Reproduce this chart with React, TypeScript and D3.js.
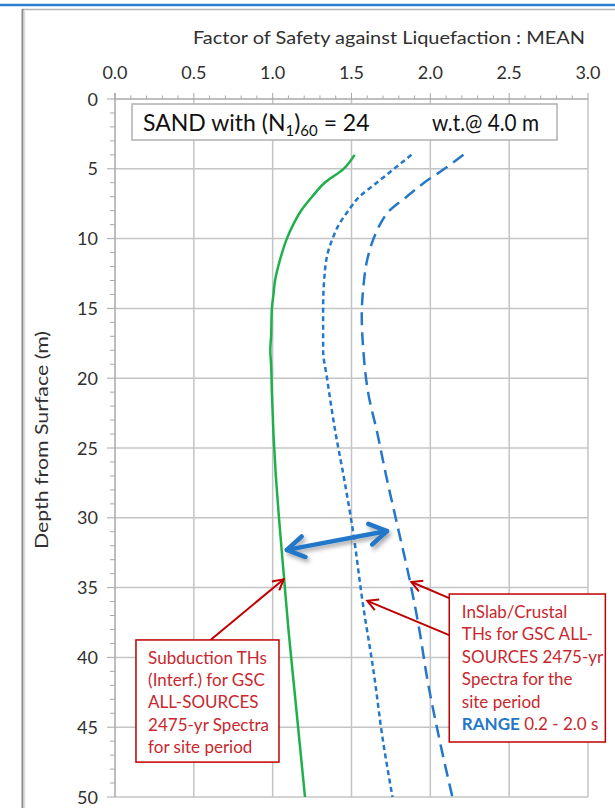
import React from "react";
import * as d3 from "d3";

// depth (m) for each curve point
const greenDepth = [4, 5, 6, 7, 8, 9, 10, 11, 12, 13, 14, 15, 17, 18, 19, 21, 24, 27, 30, 34, 38, 42, 46, 50];
const greenFs = [1.52, 1.45, 1.33, 1.25, 1.18, 1.13, 1.09, 1.06, 1.035, 1.015, 1.005, 0.995, 0.99, 0.985, 0.99, 0.995, 1.005, 1.02, 1.04, 1.07, 1.1, 1.135, 1.17, 1.205];

const dotDepth = [4, 5, 6, 7, 8, 9, 10, 11, 12.5, 15, 18, 20, 24, 27, 31, 36, 41, 46, 50];
const dotFs = [1.88, 1.77, 1.66, 1.55, 1.48, 1.42, 1.38, 1.35, 1.33, 1.32, 1.32, 1.345, 1.4, 1.45, 1.51, 1.57, 1.64, 1.7, 1.76];

const dashDepth = [4, 5, 6, 7, 8, 9, 10, 11.5, 13.5, 15.5, 18, 21, 24, 27, 30.5, 34.5, 38, 41.5, 46, 50];
const dashFs = [2.21, 2.09, 1.96, 1.85, 1.74, 1.68, 1.64, 1.6, 1.575, 1.565, 1.575, 1.605, 1.665, 1.72, 1.79, 1.87, 1.93, 1.98, 2.06, 2.14];

const xTicks = [0, 0.5, 1, 1.5, 2, 2.5, 3];
const yTicks = [0, 5, 10, 15, 20, 25, 30, 35, 40, 45, 50];

const subLines = ["Subduction THs", "(Interf.) for GSC", "ALL-SOURCES", "2475-yr Spectra", "for site period"];
const slabLines = ["InSlab/Crustal", "THs for GSC ALL-", "SOURCES 2475-yr", "Spectra for the", "site period"];

const W = 615;
const H = 808;
const font = "Lato, 'Open Sans', sans-serif";
const red = "#c00000";
const redText = "#c8282e";
const blue = "#2477c9";
const grid = "#c4c4c4";
const axisCol = "#a8a8a8";
const textCol = "#303030";

const App = () => {
  const x = d3.scaleLinear().domain([0, 3]).range([115, 588]);
  const y = d3.scaleLinear().domain([0, 50]).range([99, 797]);

  const line = d3
    .line<[number, number]>()
    .x((d) => x(d[0]))
    .y((d) => y(d[1]))
    .curve(d3.curveMonotoneY);

  const green = line(greenDepth.map((d, i) => [greenFs[i], d]));
  const dotted = line(dotDepth.map((d, i) => [dotFs[i], d]));
  const dashed = line(dashDepth.map((d, i) => [dashFs[i], d]));

  const minorX = d3.range(0, 3.001, 0.1);
  const minorY = d3.range(0, 50.001, 1);

  // open chevron arrowhead at (x2,y2) pointing from (x1,y1)
  const head = (x1: number, y1: number, x2: number, y2: number, len: number, ang: number) => {
    const a = Math.atan2(y2 - y1, x2 - x1);
    const p1 = [x2 - len * Math.cos(a - ang), y2 - len * Math.sin(a - ang)];
    const p2 = [x2 - len * Math.cos(a + ang), y2 - len * Math.sin(a + ang)];
    return `M${p1[0]},${p1[1]}L${x2},${y2}L${p2[0]},${p2[1]}`;
  };

  const redArrows = [
    [0.6, 38.8, 1.07, 34.4],
    [2.12, 35.75, 1.88, 34.6],
    [2.12, 38.4, 1.6, 35.95],
  ];

  const ba = [x(1.09), y(32.3), x(1.725), y(30.95)];

  return (
    <svg width={W} height={H} style={{ position: "absolute", left: 0, top: 0 }} fontFamily={font}>
      <defs>
        <filter id="sh" x="-20%" y="-50%" width="140%" height="200%">
          <feDropShadow dx="2" dy="3" stdDeviation="2" floodColor="#000" floodOpacity="0.35" />
        </filter>
      </defs>
      <rect width={W} height={H} fill="#fff" />
      {/* frame */}
      <line x1={0} x2={W} y1={5} y2={5} stroke="#2f7fd0" strokeWidth={2.5} />
      <line x1={22} x2={W} y1={9.5} y2={9.5} stroke="#b4b4b4" strokeWidth={1.5} />
      <line x1={22.5} x2={22.5} y1={9} y2={H} stroke="#8a8a8a" strokeWidth={2} />
      <line x1={24.5} x2={24.5} y1={11} y2={H} stroke="#dcdcdc" strokeWidth={1.5} />

      {/* grid */}
      {xTicks.slice(1).map((t) => (
        <line key={"gx" + t} x1={x(t)} x2={x(t)} y1={y(0)} y2={y(50)} stroke={grid} strokeWidth={1.5} />
      ))}
      {yTicks.slice(1).map((t) => (
        <line key={"gy" + t} x1={x(0)} x2={x(3)} y1={y(t)} y2={y(t)} stroke={grid} strokeWidth={1.5} />
      ))}

      {/* axes */}
      <line x1={x(0)} x2={x(3)} y1={y(0)} y2={y(0)} stroke={axisCol} strokeWidth={1.5} />
      <line x1={x(0)} x2={x(0)} y1={y(0) - 6} y2={y(50)} stroke={axisCol} strokeWidth={1.5} />
      {minorX.map((t, i) => (
        <line key={"mx" + i} x1={x(t)} x2={x(t)} y1={y(0)} y2={y(0) - (i % 5 === 0 ? 6 : 3.5)} stroke={axisCol} strokeWidth={1} />
      ))}
      {minorY.map((t, i) => (
        <line key={"my" + i} x1={x(0)} x2={x(0) - (i % 5 === 0 ? 8 : 5)} y1={y(t)} y2={y(t)} stroke={axisCol} strokeWidth={1} />
      ))}
      {xTicks.map((t) => (
        <text key={"tx" + t} x={x(t)} y={79} textAnchor="middle" fontSize={18} fill={textCol}>
          {t.toFixed(1)}
        </text>
      ))}
      {yTicks.map((t) => (
        <text key={"ty" + t} x={98} y={y(t) + 6.5} textAnchor="end" fontSize={18} fill={textCol}>
          {t}
        </text>
      ))}
      <text x={389} y={44} textAnchor="middle" fontSize={18} fill={textCol} textLength={392} lengthAdjust="spacingAndGlyphs">
        Factor of Safety against Liquefaction : MEAN
      </text>
      <text transform="translate(48,440) rotate(-90)" textAnchor="middle" fontSize={18} fill={textCol} textLength={218} lengthAdjust="spacingAndGlyphs">
        Depth from Surface (m)
      </text>

      {/* title box */}
      <rect x={132} y={104} width={425} height={36} fill="#fff" stroke="#b0b0b0" strokeWidth={1.5} />
      <text x={143} y={131} fontSize={23} fill="#111">
        SAND with (N<tspan fontSize={15} dy={5}>1</tspan>
        <tspan dy={-5}>)</tspan>
        <tspan fontSize={15} dy={5}>60</tspan>
        <tspan dy={-5}>{" = 24"}</tspan>
      </text>
      <text x={432} y={131} fontSize={22.5} fill="#111" textLength={107} lengthAdjust="spacingAndGlyphs">
        w.t.@ 4.0 m
      </text>

      {/* curves */}
      <path d={green ?? ""} fill="none" stroke="#1fb04c" strokeWidth={2.5} />
      <path d={dotted ?? ""} fill="none" stroke={blue} strokeWidth={2.5} strokeDasharray="5,3.5" />
      <path d={dashed ?? ""} fill="none" stroke={blue} strokeWidth={2.5} strokeDasharray="13,7" />

      {/* blue double arrow */}
      <g filter="url(#sh)" stroke={blue} strokeWidth={4.5} fill="none" strokeLinecap="round" strokeLinejoin="round">
        <line x1={ba[0]} y1={ba[1]} x2={ba[2]} y2={ba[3]} />
        <path d={head(ba[2], ba[3], ba[0], ba[1], 20, 0.55)} />
        <path d={head(ba[0], ba[1], ba[2], ba[3], 20, 0.55)} />
      </g>

      {/* red arrows */}
      {redArrows.map((a, i) => {
        const [x1, y1, x2, y2] = [x(a[0]), y(a[1]), x(a[2]), y(a[3])];
        return (
          <g key={"ra" + i} stroke={red} strokeWidth={2} fill="none">
            <line x1={x1} y1={y1} x2={x2} y2={y2} />
            <path d={head(x1, y1, x2, y2, 12, 0.5)} />
          </g>
        );
      })}

      {/* annotation boxes */}
      <rect x={x(0.133)} y={y(38.75)} width={x(1.04) - x(0.133)} height={y(47.5) - y(38.75)} fill="#fff" stroke={red} strokeWidth={1.5} />
      {subLines.map((s, i) => (
        <text key={"sl" + i} x={x(0.21)} y={y(38.75) + 24 + i * 22.2} fontSize={17} fill={redText}>
          {s}
        </text>
      ))}
      <rect x={x(2.12)} y={y(35.46)} width={x(3.11) - x(2.12)} height={y(46.06) - y(35.46)} fill="#fff" stroke={red} strokeWidth={1.5} />
      {slabLines.map((s, i) => (
        <text key={"il" + i} x={x(2.2)} y={y(35.46) + 24 + i * 22.4} fontSize={17} fill={redText}>
          {s}
        </text>
      ))}
      <text x={x(2.2)} y={y(35.46) + 24 + 5 * 22.4} fontSize={17} fill={redText}>
        <tspan fill={blue} fontWeight="bold">RANGE</tspan> 0.2 - 2.0 s
      </text>
    </svg>
  );
};

export default App;
